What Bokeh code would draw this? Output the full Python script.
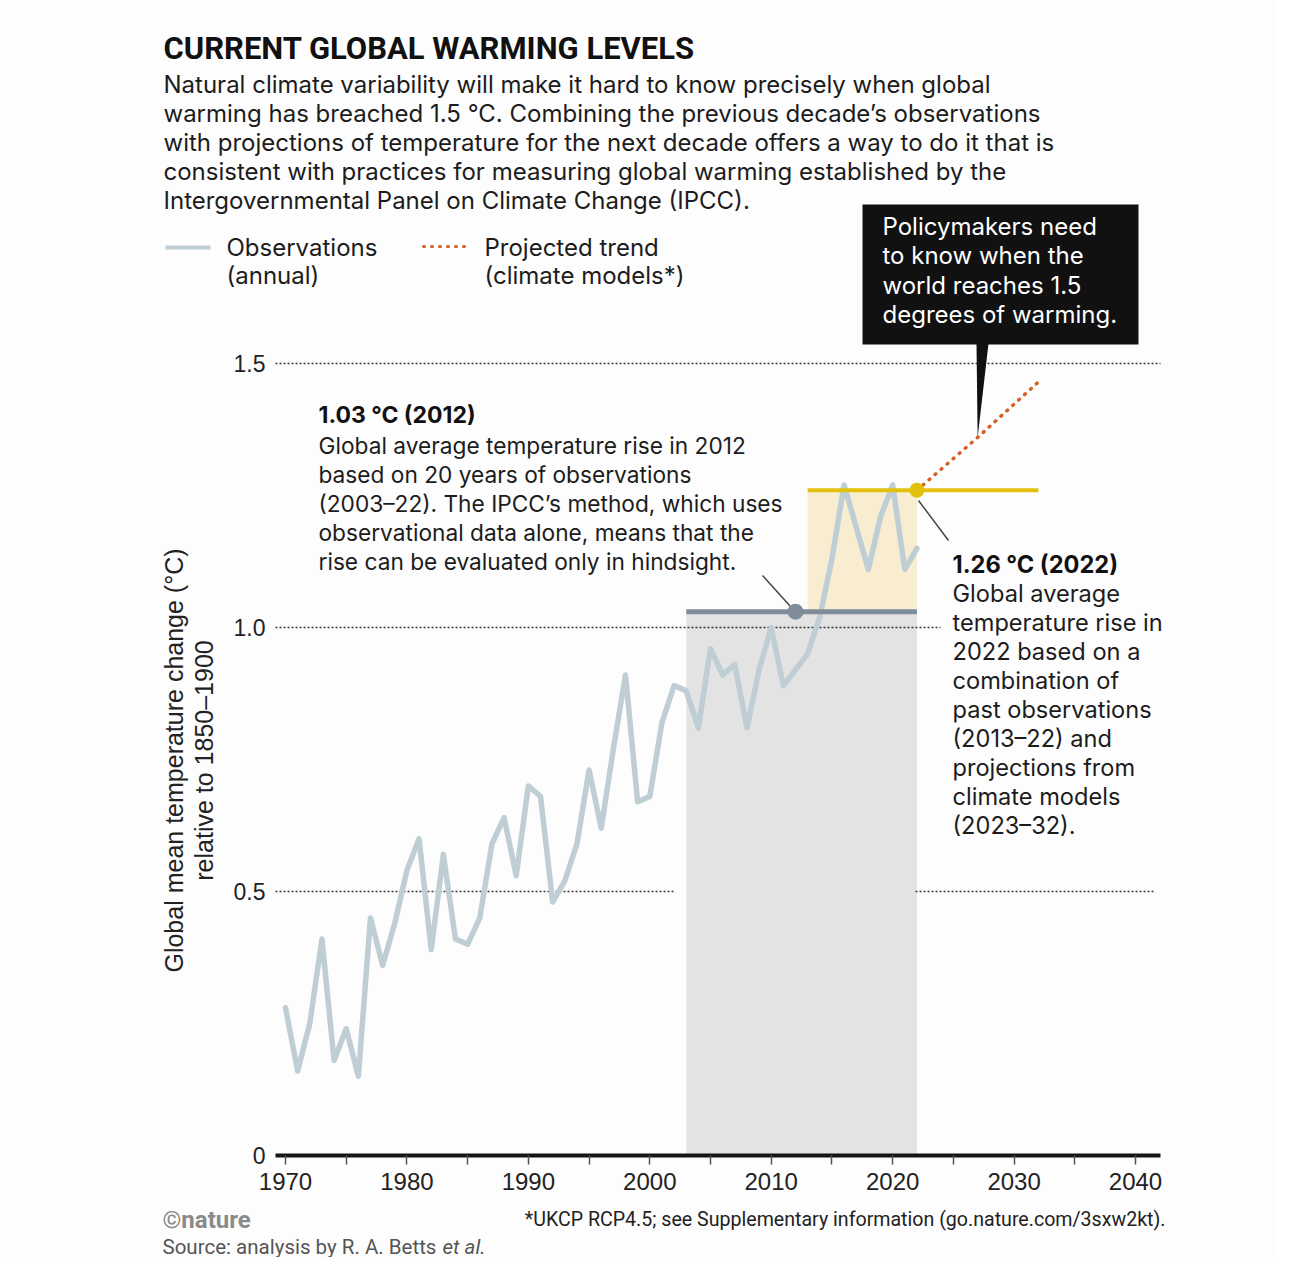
from bokeh.plotting import figure
from bokeh.models import Label, Range1d, FixedTicker, ColumnDataSource
from bokeh.embed import file_html
from bokeh.resources import INLINE

# ---------------- data ----------------
obs_years = list(range(1970, 2023))
obs_values = [0.28, 0.16, 0.25, 0.41, 0.18, 0.24, 0.15, 0.45, 0.36, 0.44,
              0.54, 0.60, 0.39, 0.57, 0.41, 0.40, 0.45, 0.59, 0.64, 0.53,
              0.70, 0.68, 0.48, 0.52, 0.59, 0.73, 0.62, 0.77, 0.91, 0.67,
              0.68, 0.82, 0.89, 0.88, 0.81, 0.96, 0.91, 0.93, 0.81, 0.92,
              1.00, 0.89, 0.92, 0.95, 1.02, 1.13, 1.27, 1.19, 1.11, 1.21,
              1.27, 1.11, 1.15]
proj_years = [2022, 2027, 2032]
proj_values = [1.26, 1.36, 1.465]

level_2012 = 1.03
window_2012 = [2003, 2022]
level_2022 = 1.26
window_2022_obs = [2013, 2022]
window_2022_proj_end = 2032

x_ticks = [1970, 1980, 1990, 2000, 2010, 2020, 2030, 2040]
x_minor_ticks = [1975, 1985, 1995, 2005, 2015, 2025, 2035]
y_ticks = [0, 0.5, 1.0, 1.5]
y_tick_labels = ["0", "0.5", "1.0", "1.5"]

# ---------------- layout helpers (page pixel -> data) ----------------
X0, PXY, Y0, PXV = 285.0, 12.143, 1155.0, 528.0
def dx(rx):
    return 1970 + (rx - X0) / PXY
def dy(ry):
    return (Y0 - ry) / PXV

BODY = "Inter"
COND = "Roboto"
SANS = "Liberation Sans"
INK = "#1c1c1c"
BG = "#fdfdfd"
OBS_C = "#bfcdd5"
PROJ_C = "#d4602a"
BOX_C = "#111111"
AXIS_L, AXIS_R = 275, 1160

W, H = 1277, 1257
p = figure(width=W, height=H, output_backend="svg", toolbar_location=None,
           x_range=Range1d(dx(0), dx(W)), y_range=Range1d(dy(H), dy(0)),
           min_border=0)
p.background_fill_color = BG
p.border_fill_color = BG
p.outline_line_color = None
p.xgrid.visible = False
p.ygrid.visible = False

# axes (floating, placed at the chart's own edges)
xa = p.xaxis[0]
xa.fixed_location = 0
xa.bounds = (dx(AXIS_L), dx(AXIS_R))
xa.ticker = FixedTicker(ticks=x_ticks, minor_ticks=x_minor_ticks)
xa.axis_line_width = 4
xa.axis_line_color = "#151515"
xa.major_tick_in = 0
xa.major_tick_out = 9
xa.minor_tick_in = 0
xa.minor_tick_out = 9
xa.major_tick_line_color = "#555555"
xa.minor_tick_line_color = "#555555"
xa.major_tick_line_width = 1.5
xa.minor_tick_line_width = 1.5
xa.major_label_standoff = 8
xa.major_label_text_font = SANS
xa.major_label_text_font_size = "24px"
xa.major_label_text_color = "#222222"

ya = p.yaxis[0]
ya.fixed_location = dx(AXIS_L)
ya.ticker = FixedTicker(ticks=y_ticks)
ya.major_label_overrides = {t: l for t, l in zip(y_ticks, y_tick_labels)}
ya.axis_line_color = None
ya.major_tick_line_color = None
ya.minor_tick_line_color = None
ya.major_tick_out = 0
ya.major_label_standoff = 10
ya.major_label_text_font = SANS
ya.major_label_text_font_size = "23px"
ya.major_label_text_color = "#222222"

# shaded windows
p.quad(left=[window_2012[0]], right=[window_2012[1]], bottom=[0], top=[level_2012],
       fill_color="#e3e3e3", line_color=None)
p.quad(left=[window_2022_obs[0]], right=[window_2022_obs[1]], bottom=[level_2012],
       top=[level_2022], fill_color="#f8ecd1", line_color=None)

# dotted reference lines
grid_src = ColumnDataSource(dict(
    x0=[dx(275), dx(275), dx(915), dx(275)],
    x1=[dx(940), dx(673), dx(1155), dx(1160)],
    y=[1.0, 0.5, 0.5, 1.5]))
p.segment(x0="x0", y0="y", x1="x1", y1="y", source=grid_src,
          line_color="#3a3a3a", line_width=1.5, line_dash="2 2")

# observations
p.line(obs_years, obs_values, line_color=OBS_C, line_width=5.5,
       line_join="round", line_cap="round")

# level lines
p.line(window_2012, [level_2012, level_2012], line_color="#7f8d9b", line_width=5)
p.line([window_2022_obs[0], window_2022_proj_end], [level_2022, level_2022],
       line_color="#e3c10a", line_width=4)

# projected trend
p.line(proj_years, proj_values, line_color=PROJ_C, line_width=3.5,
       line_dash="1 7", line_cap="round")

# leader lines
p.segment(x0=[dx(762), dx(918)], y0=[dy(575), dy(500)],
          x1=[dx(790), dx(948)], y1=[dy(606), dy(540)],
          line_color="#444444", line_width=1.5)

# points
p.scatter([2012], [level_2012], size=16, fill_color="#7f8d9b", line_color=None)
p.scatter([proj_years[0]], [level_2022], size=15, fill_color="#e3c10a", line_color=None)

# callout box with pointer to the projected trend
p.quad(left=[dx(862)], right=[dx(1138)], bottom=[dy(344)], top=[dy(204)],
       fill_color=BOX_C, line_color=None)
p.patch([dx(976), dx(988), proj_years[1]], [dy(343), dy(343), proj_values[1]],
        fill_color=BOX_C, line_color=None)

# legend markers
p.line([dx(165), dx(210)], [dy(247), dy(247)], line_color=OBS_C, line_width=4)
p.line([dx(423), dx(468)], [dy(246), dy(246)], line_color=PROJ_C, line_width=3,
       line_dash="1 7", line_cap="round")


def lab(rx, ry, text, font=BODY, size="22.7px", color=INK, style="normal",
        align="left", angle=0.0):
    p.add_layout(Label(x=dx(rx), y=dy(ry), text=text, text_font=font,
                       text_font_size=size, text_color=color, text_font_style=style,
                       text_align=align, text_baseline="middle", angle=angle))


# title & intro
lab(163, 48, "CURRENT GLOBAL WARMING LEVELS", font=COND, size="31px",
    color="#111111", style="bold")
intro = ["Natural climate variability will make it hard to know precisely when global",
         "warming has breached 1.5 °C. Combining the previous decade’s observations",
         "with projections of temperature for the next decade offers a way to do it that is",
         "consistent with practices for measuring global warming established by the",
         "Intergovernmental Panel on Climate Change (IPCC)."]
for i, t in enumerate(intro):
    lab(163, 84 + i * 29, t, size="24px")

# legend texts
lab(226, 247, "Observations", size="24px")
lab(226, 275, "(annual)", size="24px")
lab(484, 247, "Projected trend", size="24px")
lab(484, 275, "(climate models*)", size="24px")

# callout text
for i, t in enumerate(["Policymakers need", "to know when the",
                       "world reaches 1.5", "degrees of warming."]):
    lab(882, 226 + i * 29.3, t, color="#ffffff", size="24px")

# annotation 2012
lab(318, 414, "1.03 °C (2012)", style="bold", color="#111111", size="23px")
for i, t in enumerate(["Global average temperature rise in 2012",
                       "based on 20 years of observations",
                       "(2003–22). The IPCC’s method, which uses",
                       "observational data alone, means that the",
                       "rise can be evaluated  only in hindsight."]):
    lab(318, 445 + i * 29, t)

# annotation 2022
lab(952, 564, "1.26 °C (2022)", style="bold", color="#111111", size="23.6px")
for i, t in enumerate(["Global average", "temperature rise in", "2022 based on a",
                       "combination of", "past observations", "(2013–22) and",
                       "projections from", "climate models", "(2023–32)."]):
    lab(952, 593 + i * 29, t, size="23.6px")

# y axis title
lab(173, 760, "Global mean temperature change (°C)", font=SANS, size="25px",
    color="#222222", align="center", angle=1.5707963)
lab(203, 760, "relative to 1850–1900", font=SANS, size="25px",
    color="#222222", align="center", angle=1.5707963)

# footer
lab(162, 1219, "©nature", font=COND, size="24px", color="#8a8a8a", style="bold")
lab(1165, 1219,
    "*UKCP RCP4.5; see Supplementary information (go.nature.com/3sxw2kt).",
    font=COND, size="19.6px", color="#222222", align="right")
lab(162, 1246, "Source: analysis by R. A. Betts", font=COND, size="20.5px",
    color="#555555")
lab(442, 1246, "et al.", font=COND, size="20.5px", color="#555555", style="italic")

open("out.html", "w").write(file_html(p, INLINE))
